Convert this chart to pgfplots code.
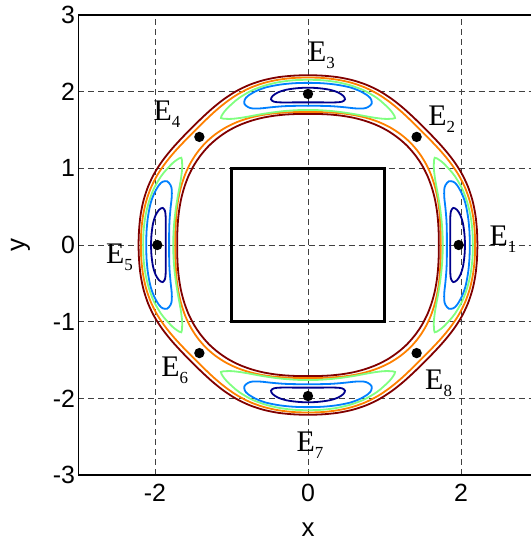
\documentclass[border=0pt]{standalone}
\usepackage{fontspec}
\setmainfont{Liberation Serif}
\newfontfamily\arial{Liberation Sans}
\usepackage{pgfplots}
\pgfplotsset{compat=1.18}
\usepackage{pgfplotstable}

% jet colours of the five contour levels
\definecolor{cDR}{rgb}{0.5,0,0}
\definecolor{cOR}{rgb}{1,0.5,0}
\definecolor{cGR}{rgb}{0.5,1,0.5}
\definecolor{cBL}{rgb}{0,0.5,1}
\definecolor{cDB}{rgb}{0,0,0.55}

% closed rings in polar form: angle (deg), radius of each level
% od/oo = outer dark red / orange, io/id = inner orange / dark red
\pgfplotstableread{
t   od    oo    io    id
0   2.215 2.185 1.735 1.710
5   2.217 2.187 1.741 1.715
10  2.223 2.190 1.754 1.727
15  2.227 2.191 1.776 1.744
20  2.225 2.185 1.801 1.764
25  2.215 2.170 1.827 1.784
30  2.197 2.148 1.852 1.803
35  2.177 2.125 1.872 1.818
40  2.161 2.107 1.885 1.827
45  2.155 2.100 1.890 1.831
50  2.161 2.107 1.885 1.827
55  2.177 2.125 1.872 1.818
60  2.197 2.148 1.852 1.803
65  2.215 2.170 1.827 1.784
70  2.225 2.185 1.801 1.764
75  2.227 2.191 1.776 1.744
80  2.223 2.190 1.754 1.727
85  2.217 2.187 1.741 1.715
90  2.215 2.185 1.735 1.710
95  2.217 2.187 1.741 1.715
100 2.223 2.190 1.754 1.727
105 2.227 2.191 1.776 1.744
110 2.225 2.185 1.801 1.764
115 2.215 2.170 1.827 1.784
120 2.197 2.148 1.852 1.803
125 2.177 2.125 1.872 1.818
130 2.161 2.107 1.885 1.827
135 2.155 2.100 1.890 1.831
140 2.161 2.107 1.885 1.827
145 2.177 2.125 1.872 1.818
150 2.197 2.148 1.852 1.803
155 2.215 2.170 1.827 1.784
160 2.225 2.185 1.801 1.764
165 2.227 2.191 1.776 1.744
170 2.223 2.190 1.754 1.727
175 2.217 2.187 1.741 1.715
180 2.215 2.185 1.735 1.710
185 2.217 2.187 1.741 1.715
190 2.223 2.190 1.754 1.727
195 2.227 2.191 1.776 1.744
200 2.225 2.185 1.801 1.764
205 2.215 2.170 1.827 1.784
210 2.197 2.148 1.852 1.803
215 2.177 2.125 1.872 1.818
220 2.161 2.107 1.885 1.827
225 2.155 2.100 1.890 1.831
230 2.161 2.107 1.885 1.827
235 2.177 2.125 1.872 1.818
240 2.197 2.148 1.852 1.803
245 2.215 2.170 1.827 1.784
250 2.225 2.185 1.801 1.764
255 2.227 2.191 1.776 1.744
260 2.223 2.190 1.754 1.727
265 2.217 2.187 1.741 1.715
270 2.215 2.185 1.735 1.710
275 2.217 2.187 1.741 1.715
280 2.223 2.190 1.754 1.727
285 2.227 2.191 1.776 1.744
290 2.225 2.185 1.801 1.764
295 2.215 2.170 1.827 1.784
300 2.197 2.148 1.852 1.803
305 2.177 2.125 1.872 1.818
310 2.161 2.107 1.885 1.827
315 2.155 2.100 1.890 1.831
320 2.161 2.107 1.885 1.827
325 2.177 2.125 1.872 1.818
330 2.197 2.148 1.852 1.803
335 2.215 2.170 1.827 1.784
340 2.225 2.185 1.801 1.764
345 2.227 2.191 1.776 1.744
350 2.223 2.190 1.754 1.727
355 2.217 2.187 1.741 1.715
360 2.215 2.185 1.735 1.710
}\rings

% one lobe of each inner level, centred on angle 0 (angle, radius)
\pgfplotstableread{
t     r
0     1.762
-5    1.765
-10   1.774
-15   1.790
-20   1.814
-25   1.848
-28   1.878
-31   1.920
-33   1.962
-34.5 2.010
-33   2.042
-31   2.068
-28   2.095
-25   2.120
-20   2.145
-15   2.155
-10   2.158
-5    2.157
0     2.155
5     2.157
10    2.158
15    2.155
20    2.145
25    2.120
28    2.095
31    2.068
33    2.042
34.5  2.010
33    1.962
31    1.920
28    1.878
25    1.848
20    1.814
15    1.790
10    1.774
5     1.765
0     1.762
}\lobeG

\pgfplotstableread{
t     r
0     1.815
-5    1.822
-10   1.838
-15   1.860
-19   1.885
-22   1.920
-23.5 1.960
-24.3 2.020
-23.5 2.070
-22   2.097
-19   2.118
-15   2.128
-10   2.124
-5    2.118
0     2.115
5     2.118
10    2.124
15    2.128
19    2.118
22    2.097
23.5  2.070
24.3  2.020
23.5  1.960
22    1.920
19    1.885
15    1.860
10    1.838
5     1.822
0     1.815
}\lobeB

\pgfplotstableread{
t     r
0     1.860
-4    1.865
-8    1.878
-11   1.895
-13.3 1.920
-14.3 1.960
-13.3 2.000
-11   2.030
-8    2.045
-4    2.050
0     2.052
4     2.050
8     2.045
11    2.030
13.3  2.000
14.3  1.960
13.3  1.920
11    1.895
8     1.878
4     1.865
0     1.860
}\lobeD

\newcommand{\Elabel}[1]{E\raisebox{-7bp}{\fontsize{17}{17}\selectfont #1}}

\begin{document}
\begin{tikzpicture}
\begin{axis}[
  scale only axis, width=459bp, height=460bp,
  xmin=-3, xmax=3, ymin=-3, ymax=3,
  xtick={-2,0,2}, xticklabels={-2,0,2},
  ytick={-3,-2,-1,0,1,2,3}, yticklabels={-3,-2,-1,0,1,2,3},
  grid=major,
  major grid style={black!75, line width=0.6bp, dash pattern=on 6bp off 4bp},
  major tick length=0pt,
  ticklabel style={font=\arial\fontsize{25}{25}\selectfont},
  xticklabel style={yshift=-6bp},
  xlabel={x}, ylabel={y},
  label style={font=\arial\fontsize{26}{26}\selectfont},
  xlabel style={at={(axis description cs:0.5,-0.1196)}, anchor=center},
  ylabel style={at={(axis description cs:-0.1264,0.5)}, anchor=center},
  axis line style={line width=1.2bp},
  clip=false,
  every axis plot/.append style={line width=1.8bp},
]
% rings
\addplot[cDR, smooth, data cs=polar] table[x=t, y=od] {\rings};
\addplot[cOR, smooth, data cs=polar] table[x=t, y=oo] {\rings};
\addplot[cOR, smooth, data cs=polar] table[x=t, y=io] {\rings};
\addplot[cDR, smooth, data cs=polar] table[x=t, y=id] {\rings};
% four lobes per level
\pgfplotsinvokeforeach{0,90,180,270}{
  \addplot[cGR, smooth, data cs=polar] table[x expr=\thisrow{t}+#1, y=r] {\lobeG};
  \addplot[cBL, smooth, data cs=polar] table[x expr=\thisrow{t}+#1, y=r] {\lobeB};
  \addplot[cDB, smooth, data cs=polar] table[x expr=\thisrow{t}+#1, y=r] {\lobeD};
}
% square
\addplot[black, line width=3.2bp] coordinates {(-1,-1) (1,-1) (1,1) (-1,1)} -- cycle;
% points E1..E8
\addplot[only marks, mark=*, mark size=4.2bp, black] coordinates {
  (1.97,0) (1.42,1.41) (0,1.97) (-1.42,1.41)
  (-1.97,0) (-1.42,-1.41) (0,-1.97) (1.42,-1.41)};
\begin{scope}[every node/.style={anchor=base west, inner sep=0pt, font=\fontsize{30}{30}\selectfont}]
\node at (axis cs:2.37,0.0)   {\Elabel{1}};
\node at (axis cs:1.57,1.56)  {\Elabel{2}};
\node at (axis cs:0.0,2.39)   {\Elabel{3}};
\node at (axis cs:-2.02,1.63) {\Elabel{4}};
\node at (axis cs:-2.64,-0.24){\Elabel{5}};
\node at (axis cs:-1.92,-1.71){\Elabel{6}};
\node at (axis cs:-0.15,-2.69){\Elabel{7}};
\node at (axis cs:1.53,-1.89) {\Elabel{8}};
\end{scope}
\end{axis}
\pgfresetboundingbox
\path[use as bounding box] ([xshift=-78.5bp,yshift=-72bp]current axis.south west)
  rectangle ([xshift=452.5bp,yshift=475bp]current axis.south west);
\end{tikzpicture}
\end{document}
